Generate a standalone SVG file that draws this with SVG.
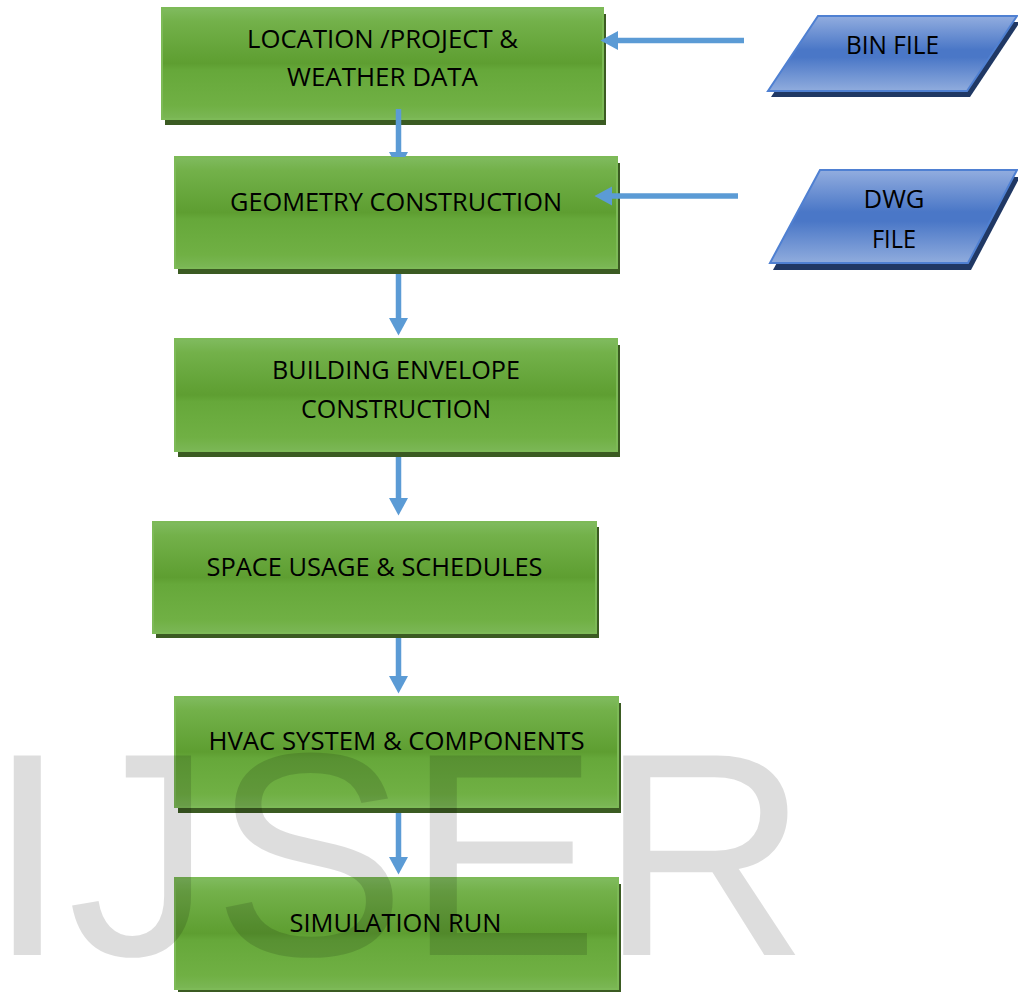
<svg xmlns="http://www.w3.org/2000/svg" width="1018" height="992" viewBox="0 0 1018 992">
<defs>
  <linearGradient id="gGreen" x1="0" y1="0" x2="0" y2="1">
    <stop offset="0" stop-color="#80bb5f"/>
    <stop offset="0.12" stop-color="#73b14a"/>
    <stop offset="0.42" stop-color="#62a236"/>
    <stop offset="0.5" stop-color="#5e9e31"/>
    <stop offset="0.56" stop-color="#66a83a"/>
    <stop offset="0.88" stop-color="#70b044"/>
    <stop offset="1" stop-color="#7bb756"/>
  </linearGradient>
  <linearGradient id="gBlue" x1="0" y1="0" x2="0" y2="1">
    <stop offset="0" stop-color="#92addf"/>
    <stop offset="0.45" stop-color="#4a77c7"/>
    <stop offset="0.55" stop-color="#4a77c7"/>
    <stop offset="1" stop-color="#90acdd"/>
  </linearGradient>
  <marker id="ah" markerUnits="userSpaceOnUse" markerWidth="18" markerHeight="20" viewBox="0 0 18 20" refX="1" refY="10" orient="auto">
    <path d="M0,0.5 L17.5,10 L0,19.5 Z" fill="#5b9bd5"/>
  </marker>
  <clipPath id="clipTop">
    <rect x="0" y="0" width="1018" height="157"/>
  </clipPath>
</defs>
<style>
  .shadowG { fill: #3b5b22; }
  .boxG { fill: url(#gGreen); stroke: #7dba57; stroke-width: 2; }
  .shadowB { fill: #203864; }
  .boxB { fill: url(#gBlue); stroke: #4f80d2; stroke-width: 2; }
  .lbl { font-family: "Open Sans", "Liberation Sans", sans-serif; font-size: 25px; fill: #000; text-anchor: middle; }
  .conn { stroke: #5b9bd5; stroke-width: 5.5; fill: none; marker-end: url(#ah); }
  .wm { font-family: "Liberation Sans", Arial, sans-serif; font-size: 290px; fill: #000; fill-opacity: 0.135; }
</style>

<g id="node-location">
  <rect class="shadowG" x="165" y="14" width="441" height="111"/>
  <rect class="boxG" x="162" y="8" width="441" height="111"/>
  <text class="lbl" x="382.5" y="48" textLength="271" lengthAdjust="spacingAndGlyphs">LOCATION /PROJECT &amp;</text>
  <text class="lbl" x="382.5" y="86" textLength="191" lengthAdjust="spacingAndGlyphs">WEATHER DATA</text>
</g>

<g id="node-geometry">
  <rect class="shadowG" x="178" y="163" width="442" height="111"/>
  <rect class="boxG" x="175" y="157" width="442" height="111"/>
  <text class="lbl" x="396" y="211" textLength="332" lengthAdjust="spacingAndGlyphs">GEOMETRY CONSTRUCTION</text>
</g>

<g id="node-envelope">
  <rect class="shadowG" x="178" y="345" width="442" height="112"/>
  <rect class="boxG" x="175" y="339" width="442" height="112"/>
  <text class="lbl" x="396" y="379" textLength="248" lengthAdjust="spacingAndGlyphs">BUILDING ENVELOPE</text>
  <text class="lbl" x="396" y="418" textLength="190" lengthAdjust="spacingAndGlyphs">CONSTRUCTION</text>
</g>

<g id="node-space">
  <rect class="shadowG" x="156" y="527" width="443" height="111"/>
  <rect class="boxG" x="153" y="522" width="443" height="111"/>
  <text class="lbl" x="374.5" y="576" textLength="336" lengthAdjust="spacingAndGlyphs">SPACE USAGE &amp; SCHEDULES</text>
</g>

<g id="node-hvac">
  <rect class="shadowG" x="178" y="703" width="443" height="110"/>
  <rect class="boxG" x="175" y="697" width="443" height="110"/>
  <text class="lbl" x="396.5" y="750" textLength="376" lengthAdjust="spacingAndGlyphs">HVAC SYSTEM &amp; COMPONENTS</text>
</g>

<g id="node-simulation">
  <rect class="shadowG" x="178" y="884" width="443" height="111"/>
  <rect class="boxG" x="175" y="878" width="443" height="111"/>
  <text class="lbl" x="395.5" y="931.5" textLength="212" lengthAdjust="spacingAndGlyphs">SIMULATION RUN</text>
</g>

<g id="node-bin">
  <polygon class="shadowB" points="821,22 1020,22 970,97 771,97"/>
  <polygon class="boxB" points="818,16 1017,16 967,91 768,91"/>
  <text class="lbl" x="892.5" y="54" textLength="93" lengthAdjust="spacingAndGlyphs">BIN FILE</text>
</g>

<g id="node-dwg">
  <polygon class="shadowB" points="823,177 1020,177 971,270 773,270"/>
  <polygon class="boxB" points="820,170 1017,170 968,263 770,263"/>
  <text class="lbl" x="894" y="208.3" textLength="61" lengthAdjust="spacingAndGlyphs">DWG</text>
  <text class="lbl" x="894" y="247.7" textLength="44" lengthAdjust="spacingAndGlyphs">FILE</text>
</g>

<g id="connectors">
  <line class="conn" x1="398.5" y1="109" x2="398.5" y2="153" clip-path="url(#clipTop)"/>
  <line class="conn" x1="398.5" y1="274" x2="398.5" y2="319"/>
  <line class="conn" x1="398.5" y1="457" x2="398.5" y2="499"/>
  <line class="conn" x1="398.5" y1="638" x2="398.5" y2="677"/>
  <line class="conn" x1="398.5" y1="813" x2="398.5" y2="858"/>
  <line class="conn" x1="744" y1="40.5" x2="617" y2="40.5"/>
  <line class="conn" x1="738" y1="196" x2="611" y2="196"/>
</g>

<text class="wm" x="-13" y="955">IJSER</text>
</svg>
